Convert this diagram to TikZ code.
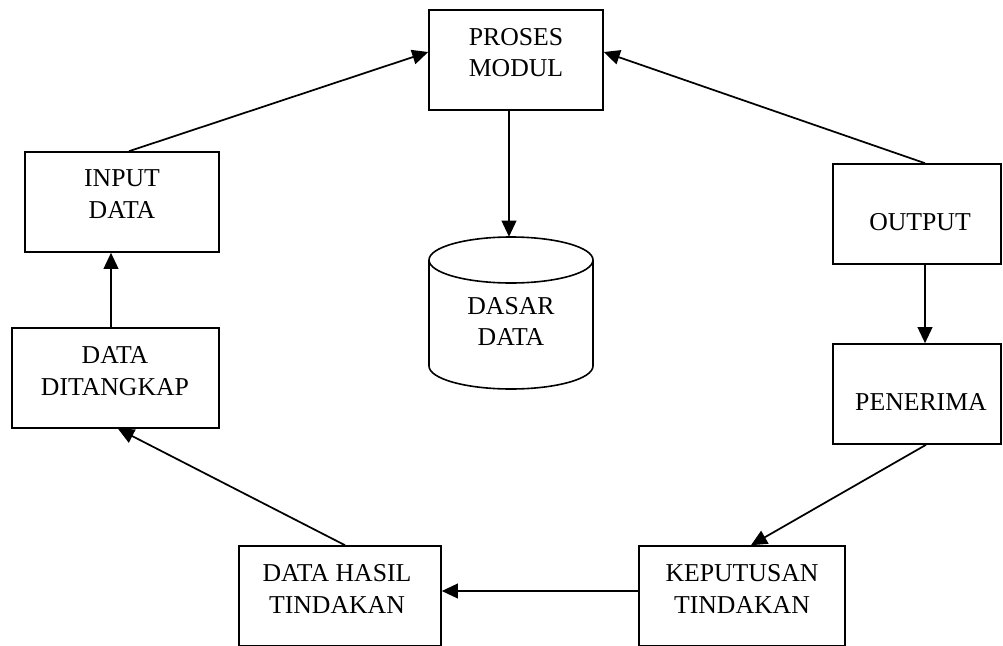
\documentclass[tikz,border=0pt]{standalone}
\usepackage{fontspec}
\setmainfont{Liberation Serif}
\usetikzlibrary{arrows.meta,calc}
\begin{document}
\begin{tikzpicture}[x=0.75pt,y=-0.75pt,
  box/.style={draw=black,line width=1.2pt,rectangle,inner sep=0pt},
  lbl/.style={align=center,inner sep=0pt,font=\fontsize{19.3}{23.8}\selectfont},
  conn/.style={line width=1.3pt,-{Triangle[length=12pt,width=11pt]}}]
\useasboundingbox (0,0) rectangle (1003,646);
% boxes
\node[box,minimum width=174*0.75pt,minimum height=100*0.75pt] (pm) at (516,60) {};
\node[box,minimum width=194*0.75pt,minimum height=100*0.75pt] (in) at (122,202) {};
\node[box,minimum width=207*0.75pt,minimum height=100*0.75pt] (dt) at (115.5,378) {};
\node[box,minimum width=168*0.75pt,minimum height=100*0.75pt] (out) at (917,214) {};
\node[box,minimum width=168*0.75pt,minimum height=100*0.75pt] (pen) at (917,394) {};
\node[box,minimum width=202*0.75pt,minimum height=100*0.75pt] (dh) at (340,596) {};
\node[box,minimum width=206*0.75pt,minimum height=100*0.75pt] (kp) at (742,596) {};
\node[inner sep=0pt,minimum width=164*0.75pt,minimum height=152*0.75pt] (db) at (511,313) {};
% cylinder
\draw[line width=1.2pt] (511,260) ellipse [x radius=61.5pt,y radius=17.25pt];
\draw[line width=1.2pt] (429,260) -- (429,366) arc[start angle=180,end angle=360,x radius=61.5pt,y radius=17.25pt] -- (593,260);
% labels
\node[lbl] (tpm) at (516,52.5) {PROSES\\MODUL};
\node[lbl] (tin) at (122,194) {INPUT\\DATA};
\node[lbl] (tdt) at (115,371) {DATA\\DITANGKAP};
\node[lbl] (tout) at (920,222) {OUTPUT};
\node[lbl] (tpen) at (921,402) {PENERIMA};
\node[lbl] (tdb) at (511,321.5) {DASAR\\DATA};
\node[lbl] (tdh) at (337,589) {DATA HASIL\\TINDAKAN};
\node[lbl] (tkp) at (742,589) {KEPUTUSAN\\TINDAKAN};
% connectors
\draw[conn] ([xshift=-3.375pt]dt.north) -- ([xshift=-8.25pt]in.south);
\draw[conn] ([xshift=5.25pt]in.north) -- ([yshift=6pt]pm.west);
\draw[conn] ([xshift=6pt]out.north) -- ([yshift=6pt]pm.east);
\draw[conn] ([xshift=-5.25pt]pm.south) -- ([xshift=-1.5pt]db.north);
\draw[conn] ([xshift=6pt]out.south) -- ([xshift=6pt]pen.north);
\draw[conn] ([xshift=6.75pt]pen.south) -- ([xshift=6.75pt]kp.north);
\draw[conn] ([yshift=3.75pt]kp.west) -- ([yshift=3.75pt]dh.east);
\draw[conn] ([xshift=3.75pt]dh.north) -- ([xshift=1.9pt]dt.south);
\end{tikzpicture}
\end{document}
